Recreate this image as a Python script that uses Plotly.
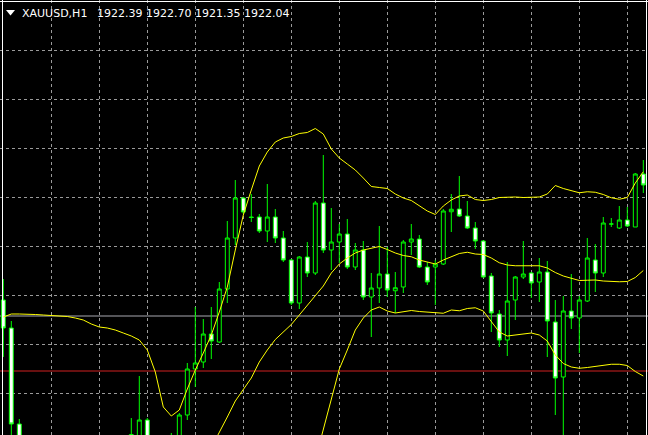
import plotly.graph_objects as go

# ---- data (XAUUSD H1) ----
bars = list(range(81))

open_ = [1918.00, 1916.88, 1913.04, 1911.80, 1911.00, 1910.50, 1910.90, 1910.60, 1909.90, 1910.40,
         1911.00, 1910.70, 1911.20, 1911.50, 1911.30, 1911.90, 1911.60, 1912.30, 1913.20, 1911.90,
         1911.20, 1911.80, 1912.20, 1913.40, 1915.24, 1915.52, 1916.64, 1916.32, 1918.44, 1920.48,
         1922.08, 1921.32, 1921.32, 1920.76, 1921.32, 1920.48, 1919.60, 1917.88, 1919.72, 1919.08,
         1921.88, 1920.00, 1920.32, 1920.64, 1919.32, 1920.00, 1918.12, 1918.48, 1919.04, 1918.37,
         1918.52, 1920.32, 1920.44, 1919.32, 1919.32, 1919.44, 1921.53, 1921.64, 1921.36, 1920.88,
         1920.36, 1918.96, 1917.44, 1916.40, 1918.00, 1918.92, 1919.08, 1918.72, 1919.12, 1917.12,
         1914.92, 1917.56, 1917.28, 1917.96, 1919.60, 1919.08, 1921.04, 1920.88, 1921.20, 1920.92,
         1923.04]
high = [1918.84, 1917.16, 1913.24, 1912.20, 1911.60, 1911.20, 1911.50, 1911.00, 1910.80, 1911.30,
        1911.70, 1911.40, 1912.00, 1912.10, 1912.20, 1912.40, 1913.28, 1914.96, 1913.28, 1912.40,
        1912.30, 1912.68, 1913.48, 1915.48, 1917.72, 1917.24, 1917.72, 1918.72, 1921.16, 1922.80,
        1922.12, 1922.24, 1921.44, 1922.64, 1921.64, 1920.76, 1919.64, 1919.76, 1920.32, 1921.96,
        1923.80, 1921.68, 1921.04, 1921.24, 1920.28, 1920.36, 1919.08, 1920.96, 1920.12, 1919.12,
        1920.40, 1921.04, 1920.60, 1919.52, 1919.60, 1921.64, 1922.24, 1922.96, 1921.96, 1921.12,
        1920.40, 1919.08, 1917.60, 1919.52, 1918.96, 1920.36, 1919.12, 1919.68, 1919.56, 1918.00,
        1918.16, 1919.04, 1918.16, 1920.48, 1920.24, 1921.32, 1921.28, 1921.76, 1921.72, 1923.08,
        1923.60]
low = [1915.72, 1912.20, 1911.20, 1910.60, 1910.20, 1909.80, 1910.30, 1909.60, 1909.50, 1910.00,
       1910.40, 1910.10, 1910.80, 1910.90, 1911.00, 1911.20, 1911.40, 1911.90, 1911.40, 1910.80,
       1910.60, 1911.30, 1911.90, 1913.20, 1914.52, 1915.28, 1915.64, 1916.28, 1917.88, 1920.20,
       1921.44, 1921.12, 1920.68, 1920.32, 1920.28, 1919.52, 1917.80, 1917.64, 1918.92, 1919.00,
       1919.88, 1919.20, 1919.48, 1919.24, 1919.20, 1918.00, 1916.52, 1917.88, 1918.12, 1917.48,
       1918.28, 1919.80, 1919.28, 1918.60, 1917.80, 1919.40, 1920.72, 1921.32, 1920.84, 1920.04,
       1918.90, 1916.72, 1916.12, 1915.76, 1917.20, 1918.84, 1918.08, 1917.92, 1915.72, 1913.40,
       1912.40, 1916.84, 1915.88, 1917.92, 1918.32, 1918.92, 1920.92, 1920.84, 1920.92, 1920.92,
       1922.28]
close = [1916.88, 1913.04, 1911.80, 1911.00, 1910.50, 1910.90, 1910.60, 1909.90, 1910.40, 1911.00,
         1910.70, 1911.20, 1911.50, 1911.30, 1911.90, 1911.60, 1912.62, 1913.20, 1911.90, 1911.20,
         1911.80, 1912.20, 1913.40, 1915.24, 1915.48, 1916.64, 1916.36, 1918.44, 1920.48, 1922.08,
         1921.52, 1921.30, 1920.76, 1921.32, 1920.48, 1919.60, 1917.88, 1919.72, 1919.08, 1921.88,
         1920.00, 1920.32, 1920.64, 1919.32, 1920.00, 1918.12, 1918.48, 1919.04, 1918.40, 1918.49,
         1920.32, 1920.44, 1919.32, 1918.72, 1919.44, 1921.56, 1921.63, 1921.36, 1920.88, 1920.36,
         1918.92, 1917.48, 1916.40, 1917.96, 1918.92, 1919.04, 1918.68, 1919.12, 1917.16, 1914.88,
         1917.56, 1917.28, 1918.00, 1919.68, 1919.08, 1921.08, 1921.04, 1921.20, 1920.96, 1923.04,
         1922.60]

# Bollinger bands (None where the line is below the visible window)
bb_upper = [1917.32, 1917.44, 1917.44, 1917.44, 1917.42, 1917.40, 1917.38, 1917.36, 1917.34, 1917.28,
            1917.20, 1917.04, 1916.92, 1916.88, 1916.80, 1916.68, 1916.56, 1916.40, 1916.00, 1915.12,
            1913.72, 1913.36, 1913.60, 1914.44, 1915.20, 1915.88, 1916.60, 1917.52, 1918.52, 1920.00,
            1921.40, 1922.40, 1923.36, 1923.92, 1924.32, 1924.48, 1924.54, 1924.66, 1924.70, 1924.86,
            1924.64, 1924.04, 1923.68, 1923.44, 1923.20, 1922.88, 1922.54, 1922.50, 1922.46, 1922.24,
            1922.08, 1921.98, 1921.76, 1921.56, 1921.42, 1921.76, 1922.00, 1922.16, 1922.20, 1922.02,
            1921.98, 1922.02, 1922.10, 1922.12, 1922.12, 1922.10, 1922.11, 1922.12, 1922.24, 1922.58,
            1922.46, 1922.36, 1922.29, 1922.33, 1922.31, 1922.22, 1922.09, 1922.03, 1922.10, 1922.68,
            1923.13]
bb_middle = [None] * 25 + [
            1911.48, 1912.08, 1912.72, 1913.32, 1913.96,
            1914.44, 1914.88, 1915.52, 1916.00, 1916.42, 1916.72, 1917.02, 1917.40, 1917.80, 1918.20,
            1918.56, 1919.08, 1919.44, 1919.68, 1919.88, 1920.00, 1920.08, 1920.14, 1920.02, 1919.88,
            1919.78, 1919.73, 1919.60, 1919.52, 1919.44, 1919.60, 1919.74, 1919.86, 1919.91, 1919.84,
            1919.82, 1919.68, 1919.49, 1919.40, 1919.37, 1919.37, 1919.37, 1919.37, 1919.28, 1919.10,
            1918.96, 1918.86, 1918.78, 1918.79, 1918.80, 1918.76, 1918.73, 1918.73, 1918.74, 1918.90,
            1919.18]
bb_lower = [None] * 38 + [
            1910.40, 1911.60,
            1912.80, 1914.04, 1915.24, 1916.00, 1916.80, 1917.28, 1917.60, 1917.72, 1917.56, 1917.48,
            1917.54, 1917.58, 1917.54, 1917.52, 1917.49, 1917.47, 1917.60, 1917.57, 1917.66, 1917.69,
            1917.56, 1917.16, 1916.72, 1916.56, 1916.60, 1916.66, 1916.68, 1916.60, 1916.36, 1915.80,
            1915.46, 1915.32, 1915.27, 1915.30, 1915.34, 1915.38, 1915.43, 1915.43, 1915.38, 1915.14,
            1914.96]

grid_prices = [1914.27, 1916.23, 1918.19, 1920.15, 1922.11, 1924.07, 1926.03, 1927.99]
grid_bars = [6, 12, 18, 24, 30, 36, 42, 48, 54, 60, 66, 72, 78]
bid_line = 1917.36
ask_line = 1915.16

symbol_label = "XAUUSD,H1"
ohlc_label = "1922.39 1922.70 1921.35 1922.04"

W, H = 648, 435
GRID = "#9a9a9a"

fig = go.Figure()

fig.add_trace(go.Candlestick(
    x=bars, open=open_, high=high, low=low, close=close,
    increasing=dict(line=dict(color="#00ff00", width=1), fillcolor="#000000"),
    decreasing=dict(line=dict(color="#00ff00", width=1), fillcolor="#ffffff"),
    whiskerwidth=0, showlegend=False, hoverinfo="skip",
))

for band in (bb_upper, bb_middle, bb_lower):
    fig.add_trace(go.Scatter(x=bars, y=band, mode="lines",
                             line=dict(color="#ffff00", width=1),
                             showlegend=False, hoverinfo="skip"))

shapes = [
    dict(type="line", xref="paper", yref="y", x0=0, x1=1, y0=bid_line, y1=bid_line,
         line=dict(color="#a8a8b0", width=1), layer="below"),
    dict(type="line", xref="paper", yref="y", x0=0, x1=1, y0=ask_line, y1=ask_line,
         line=dict(color="#d02020", width=1), layer="below"),
    # chart frame
    dict(type="line", xref="paper", yref="paper", x0=2.5 / W, x1=2.5 / W, y0=0, y1=1,
         line=dict(color="#ffffff", width=1)),
    dict(type="line", xref="paper", yref="paper", x0=0, x1=1, y0=1 - 1.5 / H, y1=1 - 1.5 / H,
         line=dict(color="#ffffff", width=1)),
    dict(type="line", xref="paper", yref="paper", x0=646.5 / W, x1=646.5 / W, y0=0, y1=1,
         line=dict(color="#ffffff", width=1)),
    # dropdown triangle
    dict(type="path", xref="paper", yref="paper",
         path=f"M {6/W} {1-10/H} L {15/W} {1-10/H} L {10.5/W} {1-15.5/H} Z",
         fillcolor="#ffffff", line=dict(color="#ffffff", width=0)),
]

annotations = [
    dict(text=symbol_label, xref="paper", yref="paper", x=20 / W, y=1 - 13.5 / H,
         xanchor="left", yanchor="middle", showarrow=False,
         font=dict(family="DejaVu Sans", size=11, color="#ffffff")),
    dict(text=ohlc_label, xref="paper", yref="paper", x=95 / W, y=1 - 13.5 / H,
         xanchor="left", yanchor="middle", showarrow=False,
         font=dict(family="DejaVu Sans", size=11, color="#ffffff")),
]

fig.update_layout(
    width=W, height=H,
    margin=dict(l=0, r=0, t=0, b=0),
    paper_bgcolor="#000000", plot_bgcolor="#000000",
    shapes=shapes, annotations=annotations,
    xaxis=dict(range=[-3.3 / 8, (W - 3.3) / 8], tickmode="array", tickvals=grid_bars,
               showticklabels=False, showgrid=True, gridcolor=GRID, griddash="3px,3px",
               gridwidth=1, zeroline=False, showline=False, ticks="",
               rangeslider=dict(visible=False), fixedrange=True),
    yaxis=dict(range=[1930 - 0.04 * H, 1930], tickmode="array", tickvals=grid_prices,
               showticklabels=False, showgrid=True, gridcolor=GRID, griddash="3px,3px",
               gridwidth=1, zeroline=False, showline=False, ticks="", fixedrange=True),
)

fig.write_html("out.html", config={"displayModeBar": False},
               post_script="document.body.style.margin='0';document.body.style.overflow='hidden';")
